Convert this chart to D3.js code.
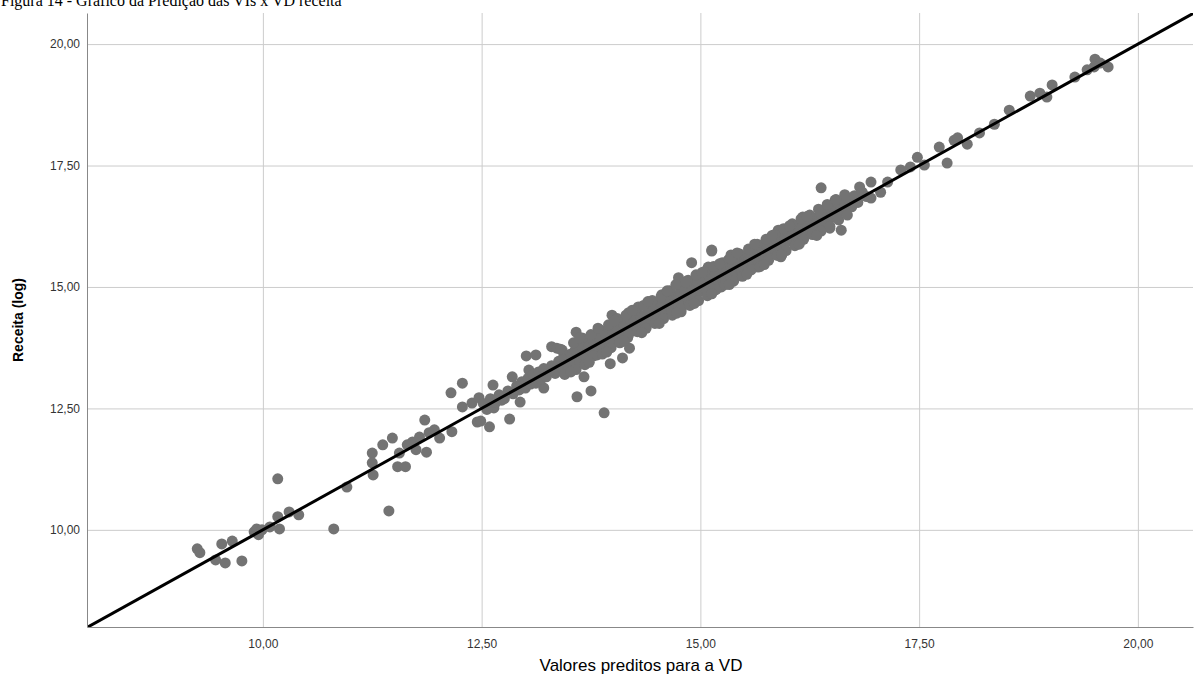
<!DOCTYPE html>
<html>
<head>
<meta charset="utf-8">
<script src="https://cdn.jsdelivr.net/npm/d3@7"></script>
<style>
  body { margin: 0; background: #fff; }
  svg { display: block; }
</style>
</head>
<body>
<div id="chart"></div>
<script>
const title = 'Figura 14 - Gráfico da Predição das VIs x VD receita'
const xLabel = 'Valores preditos para a VD'
const yLabel = 'Receita (log)'
const tickValues = [10, 12.5, 15, 17.5, 20]

// valores preditos (x) e receita log (y)
const predicted = [
  9.25, 9.28, 9.53, 9.65, 9.46, 9.57, 9.76, 9.90, 9.93, 9.95, 9.99, 10.08, 10.17, 10.19, 10.17, 10.30, 10.41, 10.81, 10.96,
  11.25, 11.25, 11.26, 11.37, 11.48, 11.54, 11.63, 11.44, 11.56, 11.71, 11.75, 11.85, 11.87, 11.96, 12.02, 12.16, 12.15,
  12.28, 12.28, 12.39, 12.45, 11.65, 11.79, 11.90,
  12.47, 12.49, 12.59, 12.63, 12.64, 12.73, 12.82, 12.85, 12.94, 12.93, 13.01, 13.12, 13.04, 13.12, 13.21, 13.18, 13.30,
  13.36, 13.35, 13.46, 13.50, 13.58, 13.58, 13.59, 13.67, 13.75, 13.64, 13.72, 13.80, 13.90, 13.97, 13.99, 13.87, 13.95,
  14.03, 14.11, 14.19, 14.10, 14.18, 14.26, 14.29, 14.37, 14.44, 14.41, 14.56, 14.52, 14.64, 14.67, 14.75, 14.78, 14.78,
  14.90, 14.86, 14.94, 15.01, 15.09, 15.13, 15.17, 15.24, 15.32, 15.35, 15.40, 15.47,
  15.01, 15.13, 15.09, 15.21, 15.24, 15.35, 15.43, 15.51, 15.66, 15.69, 15.80, 15.89, 15.92, 15.85, 16.03, 16.08, 16.17,
  16.20, 16.31, 16.38, 16.46, 16.48, 16.54, 16.61, 16.57, 16.65, 16.72, 16.82, 16.95, 16.95, 17.06, 17.14, 17.29, 17.40,
  17.48, 17.56, 17.73, 17.82, 17.90, 17.94, 18.05, 18.19, 18.36, 18.53, 18.77, 18.88, 18.96, 19.02, 19.28, 19.42, 19.51,
  19.57, 19.66, 19.50,
  13.30, 13.34, 13.38, 13.41, 13.44, 13.47, 13.50, 13.52, 13.55, 13.57, 13.60, 13.62, 13.65, 13.67, 13.70, 13.72, 13.75,
  13.77, 13.80, 13.82, 13.85, 13.87, 13.90, 13.92, 13.95, 13.97, 14.00, 14.02, 14.05, 14.07, 14.10, 14.12, 14.15, 14.17,
  14.20, 14.22, 14.25, 14.27, 14.30, 14.32, 14.35, 14.37, 14.40, 14.42, 14.45, 14.47, 14.50, 14.52, 14.55, 14.57, 14.60,
  14.62, 14.65, 14.67, 14.70, 14.72, 14.75, 14.77, 14.80, 14.82, 14.85, 14.87, 14.90, 14.92, 14.95, 14.97, 15.00, 15.02,
  15.05, 15.07, 15.10, 15.12, 15.15, 15.17, 15.20, 15.22, 15.25, 15.27, 15.30, 15.32, 15.35, 15.37, 15.40, 15.42, 15.45,
  15.47, 15.50, 15.52, 15.55, 15.57, 15.60, 15.62, 15.65, 15.67, 15.70, 15.72, 15.75, 15.77, 15.80, 15.82, 15.85, 15.87,
  15.90, 15.92, 15.95, 15.97, 16.00, 16.02, 16.05, 16.07, 16.10, 16.12, 16.15, 16.17, 16.20, 16.22, 16.25, 16.27, 16.30,
  16.33, 16.35, 16.38, 16.40, 16.43, 16.45, 16.48, 16.50, 16.53, 16.55, 16.58, 16.60, 16.63, 16.66, 16.70, 16.73, 16.76,
  16.80, 16.85, 16.90,
  12.96, 13.00, 13.03, 13.06, 13.09, 13.12, 13.15, 13.18, 13.21, 13.24, 13.27,
  12.52, 12.56, 12.60, 12.66, 12.70, 12.76, 12.80, 12.86, 12.90,
  13.45, 13.58, 13.68, 13.78, 13.88, 13.98, 14.08, 14.18, 14.28, 14.38, 14.48, 14.58, 14.68, 14.78, 14.88, 14.98, 15.08,
  15.18, 15.28, 15.38, 15.48, 15.58, 15.68, 15.78, 15.88, 15.98, 16.08, 16.18, 16.28, 16.38, 16.48, 16.58, 16.68,
  13.42, 13.55, 13.65, 13.75, 13.85, 13.95, 14.05, 14.15, 14.25, 14.35, 14.45, 14.55, 14.65, 14.72, 14.85, 14.95, 15.05,
  15.15, 15.25, 15.35, 15.45, 15.55, 15.65, 15.75, 15.85, 15.95, 16.05, 16.15, 16.25, 16.35, 16.45, 16.55, 16.65,
  13.40, 13.62, 13.83, 14.02, 14.22, 14.40, 14.62, 14.83, 15.02, 15.22, 15.42, 15.62, 15.82, 16.02, 16.22,
  13.52, 13.73, 13.93, 14.13, 14.33, 14.53, 14.73, 14.93, 15.13, 15.33, 15.53, 15.73, 15.93, 16.13, 16.33
]
const actual = [
  9.61, 9.53, 9.71, 9.77, 9.38, 9.32, 9.36, 9.96, 10.02, 9.90, 10.00, 10.06, 10.27, 10.02, 11.05, 10.37, 10.31, 10.02, 10.88,
  11.58, 11.38, 11.13, 11.75, 11.89, 11.30, 11.30, 10.39, 11.58, 11.81, 11.65, 12.26, 11.60, 12.06, 11.89, 12.02, 12.82,
  13.02, 12.53, 12.61, 12.22, 11.75, 11.91, 12.00,
  12.72, 12.24, 12.12, 12.98, 12.51, 12.67, 12.28, 13.15, 12.63, 12.88, 13.58, 13.60, 13.29, 13.09, 12.92, 13.15, 13.77,
  13.74, 13.29, 13.29, 13.50, 14.07, 13.85, 12.74, 13.15, 12.86, 13.44, 13.70, 13.77, 12.41, 13.42, 14.42, 14.07, 13.97,
  13.91, 13.54, 13.74, 14.26, 14.47, 14.26, 14.59, 14.36, 14.47, 14.69, 14.84, 14.57, 14.67, 14.47, 15.19, 14.98, 14.49,
  15.50, 15.14, 14.79, 15.00, 15.29, 15.74, 14.94, 15.35, 15.56, 15.66, 15.21, 15.41,
  15.08, 15.76, 15.41, 15.21, 15.00, 15.62, 15.41, 15.35, 15.41, 15.82, 16.01, 16.17, 15.62, 15.76, 16.23, 16.03, 16.44,
  16.17, 16.32, 17.04, 16.58, 16.21, 16.79, 16.17, 16.52, 16.85, 16.73, 17.06, 17.16, 16.83, 16.95, 17.16, 17.41, 17.47,
  17.67, 17.51, 17.88, 17.55, 18.02, 18.07, 17.94, 18.17, 18.35, 18.64, 18.93, 18.99, 18.91, 19.16, 19.32, 19.47, 19.69,
  19.61, 19.53, 19.53,
  13.38, 13.22, 13.47, 13.35, 13.58, 13.41, 13.36, 13.62, 13.48, 13.70, 13.52, 13.44, 13.78, 13.60, 13.55, 13.84, 13.68,
  13.92, 13.71, 13.60, 13.95, 13.80, 13.74, 14.02, 13.88, 13.81, 14.10, 13.95, 14.18, 13.98, 14.05, 14.25, 14.08, 13.96,
  14.32, 14.15, 14.10, 14.38, 14.22, 14.41, 14.28, 14.20, 14.52, 14.35, 14.30, 14.60, 14.44, 14.38, 14.68, 14.50, 14.45,
  14.75, 14.58, 14.52, 14.82, 14.65, 14.60, 14.90, 14.72, 14.95, 14.78, 14.68, 15.02, 14.85, 14.80, 15.10, 14.92, 15.15,
  14.98, 14.90, 15.22, 15.05, 15.00, 15.30, 15.12, 15.35, 15.18, 15.10, 15.40, 15.25, 15.20, 15.48, 15.32, 15.55, 15.38,
  15.30, 15.60, 15.45, 15.40, 15.66, 15.52, 15.70, 15.58, 15.50, 15.80, 15.64, 15.86, 15.70, 15.72, 15.92, 15.78, 15.98,
  15.84, 15.76, 16.05, 15.90, 16.12, 15.95, 15.98, 16.18, 16.02, 16.25, 16.08, 16.00, 16.30, 16.16, 16.38, 16.20, 16.22,
  16.42, 16.28, 16.50, 16.32, 16.55, 16.40, 16.62, 16.44, 16.68, 16.48, 16.72, 16.55, 16.78, 16.60, 16.80, 16.65, 16.88,
  16.74, 16.95, 16.86,
  13.05, 12.92, 13.12, 13.00, 13.20, 13.02, 13.25, 13.10, 13.32, 13.15, 13.28,
  12.60, 12.48, 12.70, 12.62, 12.78, 12.70, 12.86, 12.80, 12.96,
  13.20, 13.30, 13.40, 13.58, 13.62, 13.75, 13.85, 14.02, 14.08, 14.15, 14.25, 14.35, 14.42, 14.55, 14.62, 14.72, 14.82,
  14.95, 15.05, 15.12, 15.22, 15.35, 15.42, 15.55, 15.65, 15.75, 15.85, 15.98, 16.08, 16.15, 16.25, 16.38, 16.48,
  13.70, 13.85, 13.95, 14.02, 14.12, 14.22, 14.35, 14.42, 14.52, 14.62, 14.72, 14.80, 14.92, 15.05, 15.12, 15.25, 15.32,
  15.42, 15.50, 15.58, 15.68, 15.78, 15.88, 15.98, 16.08, 16.20, 16.30, 16.40, 16.48, 16.60, 16.70, 16.80, 16.90,
  13.72, 13.95, 14.15, 14.30, 14.52, 14.70, 14.92, 15.10, 15.30, 15.48, 15.70, 15.88, 16.06, 16.26, 16.45,
  13.25, 13.45, 13.66, 13.88, 14.06, 14.25, 14.46, 14.66, 14.86, 15.05, 15.26, 15.46, 15.66, 15.88, 16.06
]

const width = 1195
const height = 699
const margin = { left: 87, right: 2, top: 13, bottom: 72 }

const commaFmt = d3.formatLocale({ decimal: ',', thousands: '.', grouping: [3], currency: ['R$', ''] }).format('.2f')

const svg = d3.select('#chart').append('svg')
  .attr('width', width)
  .attr('height', height)
  .style('font-family', 'Arial, "Liberation Sans", sans-serif')

const xScale = d3.scaleLinear().domain([7.99, 20.63]).range([margin.left, width - margin.right])
const yScale = d3.scaleLinear().domain([8.0, 20.64]).range([height - margin.bottom, margin.top])

// title, cut off at the top like in the original
svg.append('text')
  .attr('x', 1)
  .attr('y', 6)
  .attr('font-family', '"Liberation Serif", "Times New Roman", serif')
  .attr('font-size', 16)
  .attr('fill', '#000')
  .text(title)

// gridlines
svg.append('g')
  .attr('transform', 'translate(0,' + (height - margin.bottom) + ')')
  .call(d3.axisBottom(xScale).tickValues(tickValues).tickSize(-(height - margin.bottom - margin.top)).tickFormat(''))
  .call(g => g.select('.domain').remove())
  .call(g => g.selectAll('line').attr('stroke', '#cccccc'))
svg.append('g')
  .attr('transform', 'translate(' + margin.left + ',0)')
  .call(d3.axisLeft(yScale).tickValues(tickValues).tickSize(-(width - margin.left - margin.right)).tickFormat(''))
  .call(g => g.select('.domain').remove())
  .call(g => g.selectAll('line').attr('stroke', '#cccccc'))

svg.append('clipPath').attr('id', 'plot-clip')
  .append('rect')
  .attr('x', margin.left)
  .attr('y', margin.top)
  .attr('width', width - margin.left - margin.right)
  .attr('height', height - margin.top - margin.bottom)

const pts = predicted.map((x, i) => ({ x: x, y: actual[i] }))

svg.append('g')
  .attr('clip-path', 'url(#plot-clip)')
  .selectAll('circle')
  .data(pts)
  .join('circle')
  .attr('cx', d => xScale(d.x))
  .attr('cy', d => yScale(d.y))
  .attr('r', 5.5)
  .attr('fill', '#737373')

// y = x reference line
const lineData = [{ x: 7.99, y: 7.99 }, { x: 20.7, y: 20.7 }]
svg.append('path')
  .datum(lineData)
  .attr('clip-path', 'url(#plot-clip)')
  .attr('d', d3.line().x(d => xScale(d.x)).y(d => yScale(d.y)))
  .attr('stroke', '#000')
  .attr('stroke-width', 3)
  .attr('fill', 'none')

// axes
svg.append('g')
  .attr('transform', 'translate(0,' + (height - margin.bottom) + ')')
  .call(d3.axisBottom(xScale).tickValues(tickValues).tickSize(0).tickPadding(12).tickFormat(commaFmt))
  .call(g => g.select('.domain').attr('stroke', '#888'))
  .call(g => g.selectAll('text').attr('font-size', 12).attr('fill', '#333').attr('font-family', 'Arial, "Liberation Sans", sans-serif'))
svg.append('g')
  .attr('transform', 'translate(' + margin.left + ',0)')
  .call(d3.axisLeft(yScale).tickValues(tickValues).tickSize(0).tickPadding(7).tickFormat(commaFmt))
  .call(g => g.select('.domain').attr('stroke', '#888'))
  .call(g => g.selectAll('text').attr('font-size', 12).attr('fill', '#333').attr('font-family', 'Arial, "Liberation Sans", sans-serif'))

svg.append('text')
  .attr('x', (margin.left + width) / 2)
  .attr('y', 671)
  .attr('text-anchor', 'middle')
  .attr('font-size', 17)
  .attr('fill', '#000')
  .text(xLabel)

svg.append('text')
  .attr('transform', 'translate(23,' + 320 + ') rotate(-90)')
  .attr('text-anchor', 'middle')
  .attr('font-size', 14)
  .attr('font-weight', 'bold')
  .attr('fill', '#000')
  .text(yLabel)
</script>
</body>
</html>
